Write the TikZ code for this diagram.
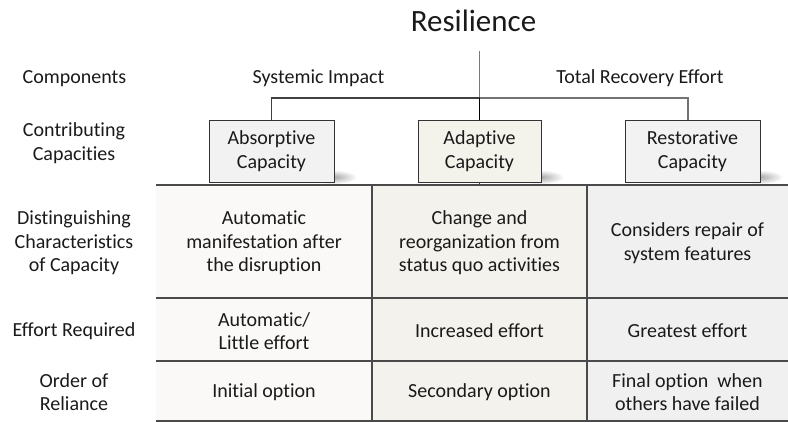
\documentclass[tikz,border=0pt]{standalone}
\usepackage{fontspec}
\setmainfont{Carlito}[Ligatures=NoCommon]
\usetikzlibrary{calc,fadings}

\definecolor{ink}{HTML}{1A1A1A}
\definecolor{rulegray}{HTML}{4A4A4A}
\definecolor{stemgray}{HTML}{7A7A7A}
\definecolor{boxgray}{HTML}{F2F2F2}
\definecolor{boxbeige}{HTML}{F3F2EB}
\definecolor{cellA}{HTML}{FAF9F7}
\definecolor{cellB}{HTML}{F3F2EC}
\definecolor{cellC}{HTML}{F0F0F0}

\tikzfading[name=softedge, inner color=transparent!30, outer color=transparent!100]

\tikzset{
  label/.style={font=\fontsize{20}{23.5}\selectfont, text=ink, align=center, inner sep=0pt},
  capbox/.style={label, draw=black!80, line width=0.9pt, minimum height=62pt},
  tablerule/.style={draw=rulegray, line width=1.1pt},
  tree/.style={draw=black!75, line width=1.1pt},
  dropshadow/.style={fill=black!50, path fading=softedge}
}

\begin{document}
\begin{tikzpicture}[x=1pt, y=-1pt]
\useasboundingbox (0,0) rectangle (788,423);

% table body: three shaded columns
\fill[cellA] (156,185) rectangle (372,421);
\fill[cellB] (372,185) rectangle (587,421);
\fill[cellC] (587,185) rectangle (788,421);

% table rules
\draw[tablerule] (156,185) -- (788,185);
\draw[tablerule] (156,298) -- (788,298);
\draw[tablerule] (156,361) -- (788,361);
\draw[tablerule] (156,421) -- (788,421);
\draw[tablerule] (372,185) -- (372,421);
\draw[tablerule] (587,185) -- (587,421);

% title and component labels
\node[label, font=\fontsize{31}{35}\selectfont, anchor=base] (title) at (473.5,31) {Resilience};
\node[label, anchor=base] (components) at (74.5,83) {Components};
\node[label, anchor=base] (impact) at (318.5,83) {Systemic Impact};
\node[label, anchor=base] (recovery) at (640,83) {Total Recovery Effort};

% row headings
\node[label] (contrib) at (74,143) {Contributing\\Capacities};
\node[label] (disting) at (74,243) {Distinguishing\\Characteristics\\of Capacity};
\node[label] (effort) at (74,331) {Effort Required};
\node[label] (order) at (74,392) {Order of\\Reliance};

% soft shadows under the capacity boxes
\fill[dropshadow] (333,177) ellipse [x radius=24, y radius=7];
\fill[dropshadow] (540,177) ellipse [x radius=24, y radius=7];
\fill[dropshadow] (759,177) ellipse [x radius=24, y radius=7];

% capacity boxes
\node[capbox, fill=boxgray, minimum width=125pt] (absorptive) at (271.5,151) {Absorptive\\Capacity};
\node[capbox, fill=boxbeige, minimum width=123pt] (adaptive) at (479.5,151) {Adaptive\\Capacity};
\node[capbox, fill=boxgray, minimum width=135pt] (restorative) at (692.5,151) {Restorative\\Capacity};

% tree connectors
\coordinate (stem) at (479.5,51);
\coordinate (hub) at (479.5,98);
\coordinate (rdrop) at ($(restorative.north)+(-4.5,0)$);
\coordinate (tabletop) at (479.5,185);
\draw[draw=stemgray, line width=1.1pt] (stem) -- (hub);
\draw[tree] (absorptive.north) |- (hub);
\draw[draw=black!55, line width=1.1pt] (hub) -| (rdrop);
\draw[draw=black, line width=1.5pt] (hub) -- (adaptive.north);
\draw[tree] (adaptive.south) -- (tabletop);

% cell contents
\node[label] (c11) at (264,243) {Automatic\\manifestation after\\the disruption};
\node[label] (c12) at (479.5,243) {Change and\\reorganization from\\status quo activities};
\node[label] (c13) at (687.5,243) {Considers repair of\\system features};
\node[label] (c21) at (264,331) {Automatic/\\Little effort};
\node[label] (c22) at (479.5,331) {Increased effort};
\node[label] (c23) at (687.5,331) {Greatest effort};
\node[label] (c31) at (264,392) {Initial option};
\node[label] (c32) at (479.5,392) {Secondary option};
\node[label] (c33) at (687.5,392) {Final option\ \ when\\others have failed};
\end{tikzpicture}
\end{document}
